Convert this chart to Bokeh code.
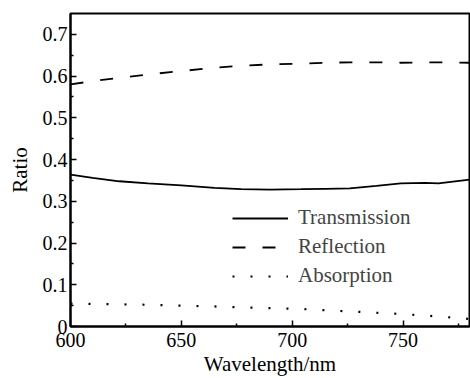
from bokeh.plotting import figure
from bokeh.models import FixedTicker, Legend, LegendItem
from bokeh.embed import file_html
from bokeh.resources import INLINE

# Wavelength samples (nm) and the optical ratios of the film
wavelength = [600, 610, 622, 635, 650, 665, 677, 690, 704, 715, 726, 738, 749, 760, 766, 780]
transmission = [0.364, 0.356, 0.348, 0.343, 0.338, 0.332, 0.329, 0.328, 0.329, 0.330, 0.331, 0.337, 0.343, 0.344, 0.343, 0.352]
reflection = [0.580, 0.588, 0.596, 0.604, 0.612, 0.620, 0.625, 0.628, 0.630, 0.632, 0.633, 0.633, 0.632, 0.633, 0.633, 0.632]
absorption = [0.055, 0.054, 0.053, 0.052, 0.050, 0.048, 0.046, 0.044, 0.042, 0.039, 0.036, 0.033, 0.030, 0.026, 0.024, 0.018]

x_ticks = [600, 650, 700, 750]
y_ticks = [0, 0.1, 0.2, 0.3, 0.4, 0.5, 0.6, 0.7]

FONT = "'Liberation Serif', 'Times New Roman', serif"

p = figure(width=470, height=378, output_backend="svg", toolbar_location=None,
           x_range=(600, 780), y_range=(0, 0.75),
           min_border_left=70, min_border_right=1, min_border_top=13, min_border_bottom=50)
p.grid.visible = False
p.background_fill_color = "white"
p.border_fill_color = "white"
p.outline_line_color = "black"
p.outline_line_width = 2

r_t = p.line(wavelength, transmission, line_color="black", line_width=1.8)
r_r = p.line(wavelength, reflection, line_color="black", line_width=1.8, line_dash="13 17")
r_a = p.line(wavelength, absorption, line_color="black", line_width=2.2, line_dash="2 16")

for ax in (p.xaxis[0], p.yaxis[0]):
    ax.axis_line_width = 2
    ax.axis_line_color = "black"
    ax.major_tick_in = 6
    ax.major_tick_out = 0
    ax.minor_tick_in = 3
    ax.minor_tick_out = 0
    ax.major_tick_line_width = 1.5
    ax.minor_tick_line_width = 1.5
    ax.major_label_text_font = FONT
    ax.major_label_text_font_size = "20px"
    ax.major_label_text_color = "black"
    ax.axis_label_text_font = FONT
    ax.axis_label_text_font_size = "21px"
    ax.axis_label_text_font_style = "normal"
    ax.axis_label_text_color = "black"

p.xaxis.ticker = FixedTicker(ticks=x_ticks, minor_ticks=[625, 675, 725, 775])
p.yaxis.ticker = FixedTicker(ticks=y_ticks, minor_ticks=[0.05, 0.15, 0.25, 0.35, 0.45, 0.55, 0.65])
p.yaxis.major_label_overrides = {0: "0"}
p.xaxis.major_label_standoff = 6
p.yaxis.major_label_standoff = 3
p.xaxis.axis_label = "Wavelength/nm"
p.yaxis.axis_label = "Ratio"
p.xaxis.axis_label_standoff = 2
p.yaxis.axis_label_standoff = 8

legend = Legend(items=[LegendItem(label="Transmission", renderers=[r_t]),
                       LegendItem(label="Reflection", renderers=[r_r]),
                       LegendItem(label="Absorption", renderers=[r_a])],
                location=(162, 38))
legend.border_line_color = None
legend.background_fill_alpha = 0
legend.glyph_width = 56
legend.glyph_height = 24
legend.label_text_font = FONT
legend.label_text_font_size = "21px"
legend.label_standoff = 10
legend.spacing = 4
legend.padding = 0
legend.margin = 0
p.add_layout(legend, "center")

open("out.html", "w").write(file_html(p, INLINE))
